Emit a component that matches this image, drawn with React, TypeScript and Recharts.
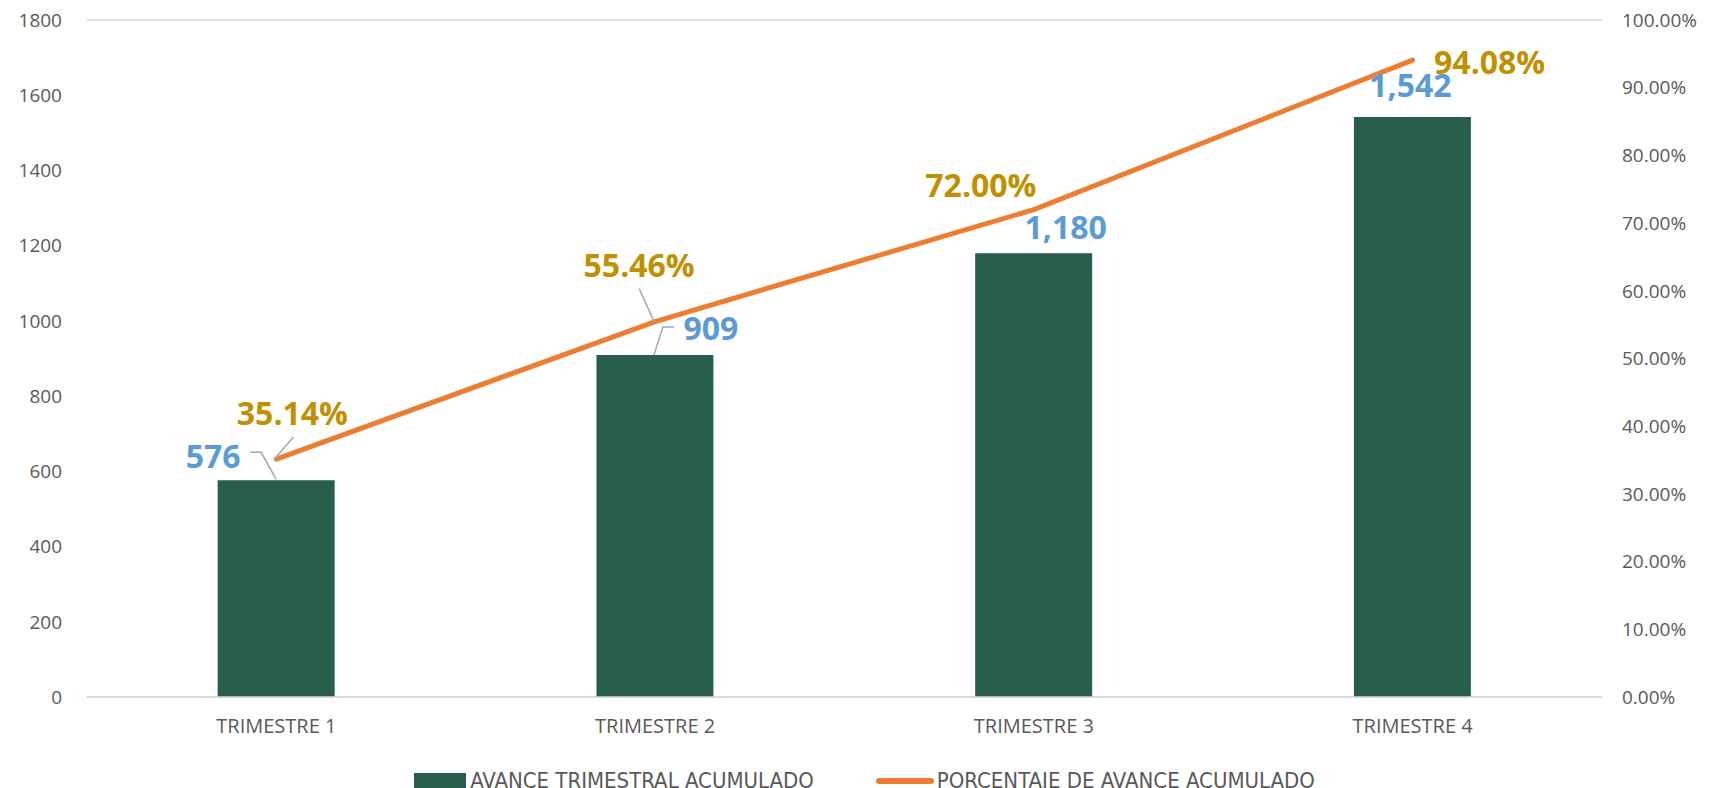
import React from 'react';
import { ComposedChart, Bar, Line, XAxis, YAxis, CartesianGrid, Legend, LabelList } from 'recharts';

const categories = ['TRIMESTRE 1', 'TRIMESTRE 2', 'TRIMESTRE 3', 'TRIMESTRE 4'];
const avanceAcumulado = [576, 909, 1180, 1542];
const porcentajeAvance = [0.3514, 0.5546, 0.72, 0.9408];
const leftTicks = [0, 200, 400, 600, 800, 1000, 1200, 1400, 1600, 1800];
const rightTicks = [0, 0.1, 0.2, 0.3, 0.4, 0.5, 0.6, 0.7, 0.8, 0.9, 1];

const chartData = categories.map((name, i) => ({
  name,
  avance: avanceAcumulado[i],
  pct: porcentajeAvance[i],
}));

const BAR_COLOR = '#295E4E';
const LINE_COLOR = '#ED7D31';
const AXIS_TEXT = '#595959';
const FONT = "'Open Sans', 'Noto Sans', sans-serif";

// label placement, relative to the bar top / line point
const barLabelOffsets = [[-63, -25], [56, -28], [32, -27], [-2, -33]];
const barLeaders: (number[][] | null)[] = [
  [[-26, -28], [-15, -28], [0, -1]],
  [[19, -28], [8, -28], [-1, 0]],
  null,
  null,
];
const pctLabelOffsets = [[16, -47], [-16, -57], [-53, -25], [77, 1]];
const pctLeaders: (number[][] | null)[] = [
  [[17, -22], [-1, -1]],
  [[-16, -33], [-1, 0]],
  null,
  null,
];

const leaderPath = (pts: number[][], ax: number, ay: number) =>
  pts.map((p, i) => `${i === 0 ? 'M' : 'L'}${ax + p[0]},${ay + p[1]}`).join(' ');

const BarLabel = (props: any) => {
  const { x, y, width, index, value } = props;
  const cx = Number(x) + Number(width) / 2;
  const top = Number(y);
  const [dx, dy] = barLabelOffsets[index];
  const leader = barLeaders[index];
  return (
    <g>
      {leader && <path d={leaderPath(leader, cx, top)} stroke="#A6A6A6" strokeWidth={1.5} fill="none" />}
      <text
        x={cx + dx}
        y={top + dy}
        textAnchor="middle"
        dominantBaseline="central"
        fill="#5B9BD5"
        fontFamily={FONT}
        fontWeight={700}
        fontSize={32}
      >
        {Number(value).toLocaleString('en-US')}
      </text>
    </g>
  );
};

const PctLabel = (props: any) => {
  const { x, y, index, value } = props;
  const px = Number(x);
  const py = Number(y);
  const [dx, dy] = pctLabelOffsets[index];
  const leader = pctLeaders[index];
  return (
    <g>
      {leader && <path d={leaderPath(leader, px, py)} stroke="#A6A6A6" strokeWidth={1.5} fill="none" />}
      <text
        x={px + dx}
        y={py + dy}
        textAnchor="middle"
        dominantBaseline="central"
        fill="#BF9000"
        fontFamily={FONT}
        fontWeight={700}
        fontSize={32}
      >
        {(Number(value) * 100).toFixed(2)}%
      </text>
    </g>
  );
};

const renderLegend = (props: any) => {
  const { payload } = props;
  return (
    <div
      style={{
        display: 'flex',
        justifyContent: 'center',
        alignItems: 'center',
        gap: 62,
        fontFamily: "'Liberation Sans Narrow', 'DejaVu Sans Condensed', sans-serif",
        fontSize: 22,
        color: AXIS_TEXT,
        lineHeight: '26px',
        paddingLeft: 20,
      }}
    >
      {(payload || []).map((entry: any) => (
        <div key={entry.value} style={{ display: 'flex', alignItems: 'center' }}>
          {entry.type === 'line' ? (
            <span style={{ display: 'inline-block', width: 58, height: 6, borderRadius: 3, background: entry.color, marginRight: 3 }} />
          ) : (
            <span style={{ display: 'inline-block', width: 52, height: 16, background: entry.color, marginRight: 4 }} />
          )}
          <span>{entry.value}</span>
        </div>
      ))}
    </div>
  );
};

export default function App() {
  return (
    <div style={{ position: 'absolute', left: 0, top: 0, width: 1709, height: 788, background: '#fff' }}>
      <ComposedChart
        width={1709}
        height={788}
        data={chartData}
        margin={{ top: 20, right: 0, bottom: 51, left: 0 }}
        barCategoryGap="34.5%"
      >
        <CartesianGrid vertical={false} stroke="#D9D9D9" strokeWidth={1.5} />
        <XAxis
          dataKey="name"
          height={40}
          axisLine={{ stroke: '#D9D9D9', strokeWidth: 1.5 }}
          tickLine={false}
          tickMargin={16}
          tick={{ fill: AXIS_TEXT, fontSize: 20, fontFamily: FONT }}
        />
        <YAxis
          yAxisId="left"
          width={87}
          domain={[0, 1800]}
          ticks={leftTicks}
          axisLine={false}
          tickLine={false}
          tickMargin={19}
          tick={{ fill: AXIS_TEXT, fontSize: 19, fontFamily: FONT }}
        />
        <YAxis
          yAxisId="right"
          orientation="right"
          width={107}
          domain={[0, 1]}
          ticks={rightTicks}
          axisLine={false}
          tickLine={false}
          tickMargin={14}
          tickFormatter={(v: number) => `${(v * 100).toFixed(2)}%`}
          tick={{ fill: AXIS_TEXT, fontSize: 19, fontFamily: FONT, textAnchor: 'start' }}
        />
        <Legend
          verticalAlign="middle"
          align="center"
          layout="horizontal"
          content={renderLegend}
          wrapperStyle={{ top: 768, left: 0, width: 1709 }}
        />
        <Bar
          yAxisId="left"
          dataKey="avance"
          name="AVANCE TRIMESTRAL ACUMULADO"
          fill={BAR_COLOR}
          legendType="rect"
          isAnimationActive={false}
        >
          <LabelList dataKey="avance" content={BarLabel} />
        </Bar>
        <Line
          yAxisId="right"
          dataKey="pct"
          name="PORCENTAJE DE AVANCE ACUMULADO"
          type="linear"
          stroke={LINE_COLOR}
          strokeWidth={5}
          strokeLinecap="round"
          dot={false}
          activeDot={false}
          legendType="line"
          isAnimationActive={false}
        >
          <LabelList dataKey="pct" content={PctLabel} />
        </Line>
      </ComposedChart>
    </div>
  );
}
